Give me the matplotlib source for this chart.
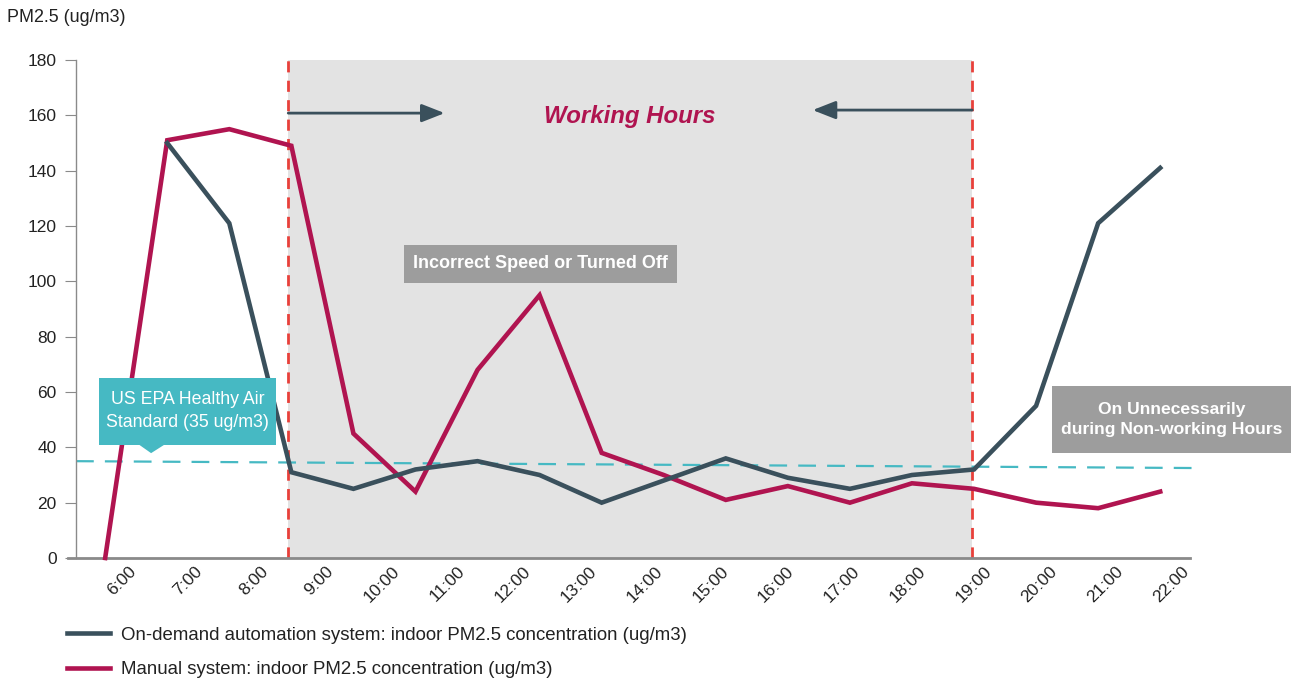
import matplotlib
matplotlib.use("Agg")
import matplotlib.pyplot as plt
from matplotlib.patches import Rectangle, Polygon
from matplotlib.lines import Line2D
import numpy as np

# ---------------- data ----------------
hours = ["6:00", "7:00", "8:00", "9:00", "10:00", "11:00", "12:00", "13:00",
         "14:00", "15:00", "16:00", "17:00", "18:00", "19:00", "20:00",
         "21:00", "22:00"]
# data samples (18 points, as plotted in the original)
manual = [0, 151, 155, 149, 45, 24, 68, 95, 38, 30, 21, 26, 20, 27, 25, 20, 18, 24]
ondemand = [None, 150, 121, 31, 25, 32, 35, 30, 20, 28, 36, 29, 25, 30, 32, 55, 121, 141]
epa_start, epa_end = 35, 32.5
work_start, work_end = 2.95, 13.97

label_auto = "On-demand automation system: indoor PM2.5 concentration (ug/m3)"
label_manual = "Manual system: indoor PM2.5 concentration (ug/m3)"

# ---------------- style ----------------
plt.rcParams['font.family'] = ['Liberation Sans', 'DejaVu Sans']

SLATE = "#3a505c"
CRIMSON = "#b01450"
TEAL = "#46b9c3"
GREYBOX = "#9d9d9d"
SHADE = "#e3e3e3"
RED = "#e8403a"

fig = plt.figure(figsize=(12.96, 6.84), dpi=100)
ax = fig.add_axes([76/1296, 1-558/684, (1190-76)/1296, (558-60)/684])

x = np.arange(len(manual))
xm = [i for i, v in zip(x, ondemand) if v is not None]
ym = [v for v in ondemand if v is not None]

ax.set_xlim(-0.47, 17.48)
ax.set_ylim(0, 180)

# shading & boundaries
ax.axvspan(work_start, work_end, color=SHADE, zorder=0, lw=0)
for xv in (work_start, work_end):
    ax.axvline(xv, color=RED, lw=2, ls=(0, (4, 3)), zorder=1)

# EPA line (slightly sloped, runs past the axis)
ax.plot([-0.47, 17.68], [epa_start, epa_end], color=TEAL, lw=1.6,
        ls=(0, (8, 5)), clip_on=False, zorder=2)

ax.plot(x, manual, color=CRIMSON, lw=3.3, solid_joinstyle='miter', zorder=4, clip_on=False)
ax.plot(xm, ym, color=SLATE, lw=3.3, solid_joinstyle='miter', zorder=5)

# axes styling
for s in ("top", "right"):
    ax.spines[s].set_visible(False)
ax.spines["left"].set_color("#8a8a8a")
ax.spines["left"].set_linewidth(1.0)
ax.spines["bottom"].set_color("#8a8a8a")
ax.spines["bottom"].set_linewidth(2.0)
ax.spines["bottom"].set_bounds(-0.6, 17.48)
ax.spines["bottom"].set_position(("data", 0))

ax.set_yticks(np.arange(0, 181, 20))
ax.tick_params(axis='y', length=8, color="#8a8a8a", labelsize=12.5, labelcolor="#222222", pad=6)
ticks = 0.38 + np.arange(len(hours)) * 1.0595
ax.set_xticks(ticks)
ax.set_xticklabels(hours, rotation=45, ha='right', va='top', rotation_mode='anchor')
ax.tick_params(axis='x', length=0, labelsize=12.5, labelcolor="#222222", pad=4)

# arrows and title
astyle = '-|>,head_length=1.4,head_width=0.55'
ax.annotate("", xy=(5.47, 160.8), xytext=(work_start, 160.8),
            arrowprops=dict(arrowstyle=astyle, color=SLATE, lw=2,
                            shrinkA=0, shrinkB=0), zorder=6)
ax.annotate("", xy=(11.4, 161.9), xytext=(work_end, 161.9),
            arrowprops=dict(arrowstyle=astyle, color=SLATE, lw=2,
                            shrinkA=0, shrinkB=0), zorder=6)
ax.text(8.45, 159.5, "Working Hours", color=CRIMSON, fontsize=17.3,
        fontweight='bold', fontstyle='italic', ha='center', va='center', zorder=6)

# Incorrect speed box
ax.add_patch(Rectangle((4.82, 99.4), 9.21-4.82, 113.1-99.4, fc=GREYBOX, ec='none', zorder=6))
ax.text(7.02, 106.3, "Incorrect Speed or Turned Off", color="white", fontsize=13,
        fontweight='bold', ha='center', va='center', zorder=7)

# EPA callout
ax.add_patch(Rectangle((-0.097, 40.8), 2.76+0.097, 65-40.8, fc=TEAL, ec='none', zorder=6, clip_on=False))
ax.add_patch(Polygon([(0.55, 40.9), (0.95, 40.9), (0.74, 37.9)], closed=True,
                     fc=TEAL, ec='none', zorder=6, clip_on=False))
ax.text(1.33, 53, "US EPA Healthy Air\nStandard (35 ug/m3)", color="white", fontsize=12.8,
        ha='center', va='center', linespacing=1.45, zorder=7, clip_on=False)

# Non-working box
ax.add_patch(Rectangle((15.26, 37.9), 19.1-15.26, 62.2-37.9, fc=GREYBOX, ec='none',
                       zorder=6, clip_on=False))
ax.text(17.18, 50.2, "On Unnecessarily\nduring Non-working Hours", color="white", fontsize=12.6,
        fontweight='bold', ha='center', va='center', linespacing=1.4, zorder=7, clip_on=False)

# y label
fig.text(7/1296, 1-18/684, "PM2.5 (ug/m3)", fontsize=12.9, color="#222222", ha='left', va='center')

# legend
handles = [Line2D([], [], color=SLATE, lw=3.3), Line2D([], [], color=CRIMSON, lw=3.3)]
fig.legend(handles, [label_auto, label_manual], loc='upper left',
           bbox_to_anchor=(50/1296, 1-610/684), frameon=False, fontsize=13.4,
           handlelength=2.3, handletextpad=0.6, labelspacing=0.95, labelcolor="#222222")

fig.savefig("out.png", dpi=100)
